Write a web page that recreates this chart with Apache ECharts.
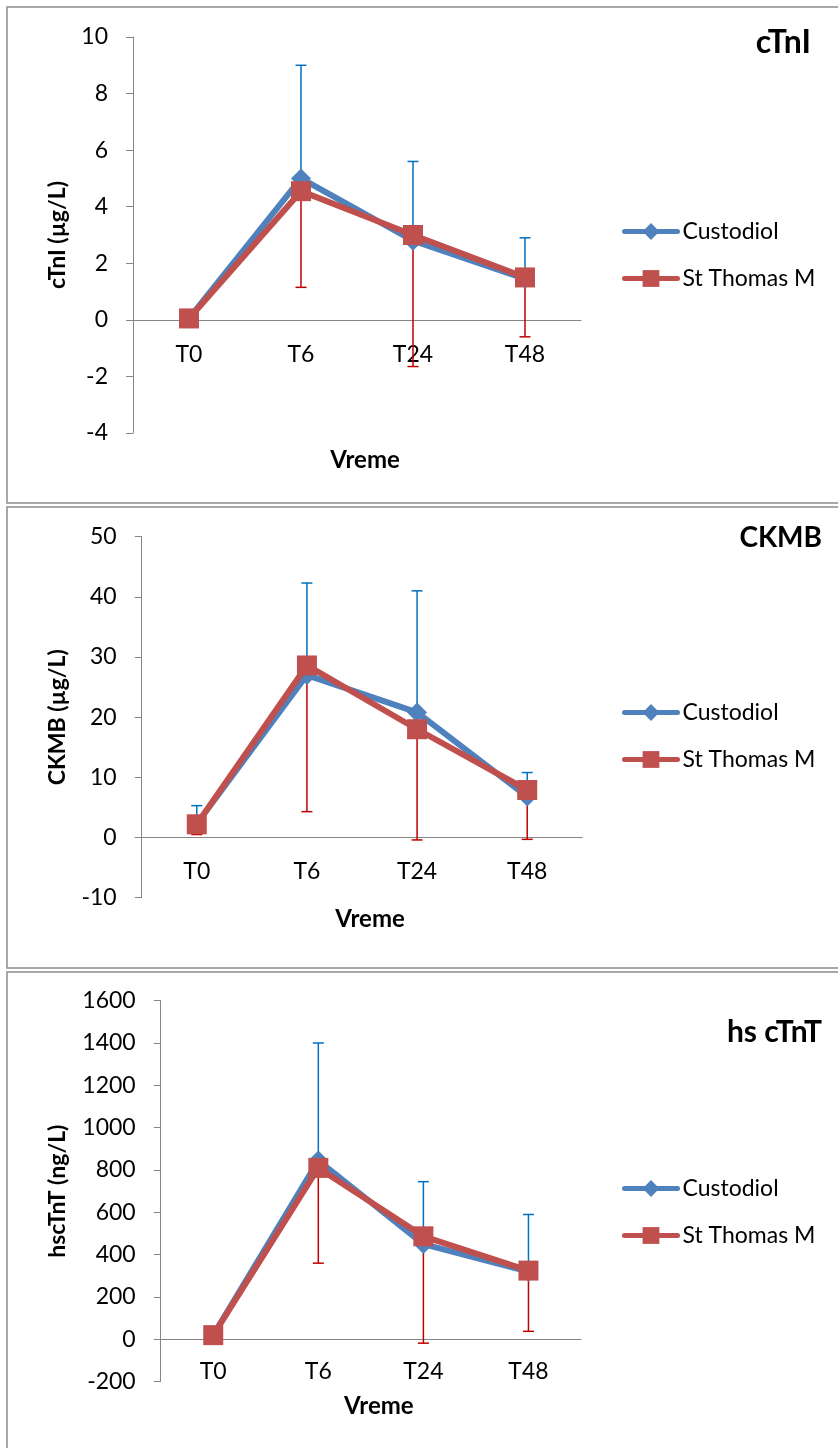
<!DOCTYPE html>
<html>
<head>
<meta charset="utf-8">
<script src="https://cdn.jsdelivr.net/npm/echarts@6/dist/echarts.min.js"></script>
<style>
  html, body { margin: 0; padding: 0; background: #fff; overflow: hidden; }
  #main { width: 838px; height: 1448px; }
</style>
</head>
<body>
<div id="main"></div>
<script>
const times = ['T0', 'T6', 'T24', 'T48']
const seriesNames = ['Custodiol', 'St Thomas M']

// cTnI (µg/L)
const ctniCust = [0.05, 5.0, 2.8, 1.45]
const ctniCustHi = [null, 9.0, 5.6, 2.9]
const ctniStm = [0.05, 4.55, 3.0, 1.5]
const ctniStmLo = [null, 1.15, -1.65, -0.6]

// CKMB (µg/L)
const ckmbCust = [2.3, 27.0, 20.8, 6.8]
const ckmbCustHi = [5.3, 42.3, 41.0, 10.8]
const ckmbStm = [2.2, 28.6, 18.0, 7.9]
const ckmbStmLo = [0.5, 4.3, -0.4, -0.3]

// hs cTnT (ng/L)
const hsCust = [20, 845, 450, 320]
const hsCustHi = [null, 1400, 745, 590]
const hsStm = [20, 810, 487, 325]
const hsStmLo = [null, 360, -18, 38]

const FONT = 'Lato, "Liberation Sans", sans-serif'
const BLUE = '#4F81BD'
const RED = '#C0504D'
const BLUE_ERR = '#0070C0'
const RED_ERR = '#C00000'
const AXIS = '#868686'

const panels = [
    { title: 'cTnI', titleSize: 32, yName: 'cTnI (µg/L)', min: -4, max: 10, step: 2,
      cust: ctniCust, custHi: ctniCustHi, stm: ctniStm, stmLo: ctniStmLo,
      grid: { left: 133, top: 37, width: 448, height: 396 },
      yGap: 75, xGap: 140, labelGap: 23, titleTop: 22, titleRight: 22, legendTop: 215 },
    { title: 'CKMB', titleSize: 28, yName: 'CKMB (µg/L)', min: -10, max: 50, step: 10,
      cust: ckmbCust, custHi: ckmbCustHi, stm: ckmbStm, stmLo: ckmbStmLo,
      grid: { left: 141.7, top: 536.7, width: 440.6, height: 361 },
      yGap: 84, xGap: 82, labelGap: 23, titleTop: 519, titleRight: 11, legendTop: 696 },
    { title: 'hs cTnT', titleSize: 30, yName: 'hscTnT (ng/L)', min: -200, max: 1600, step: 200,
      cust: hsCust, custHi: hsCustHi, stm: hsStm, stmLo: hsStmLo,
      grid: { left: 160.7, top: 1000.7, width: 420.3, height: 381 },
      yGap: 103, xGap: 67, labelGap: 21, titleTop: 1012, titleRight: 11, legendTop: 1172 }
]

// vertical error bar with a cap at the far end
const errorBar = (color) => (params, api) => {
    const x = api.value(0)
    const a = api.coord([x, api.value(1)])
    const b = api.coord([x, api.value(2)])
    const hw = 5.5
    return {
        type: 'group',
        children: [
            { type: 'line', shape: { x1: a[0], y1: a[1], x2: b[0], y2: b[1] }, style: { stroke: color, lineWidth: 1.5 } },
            { type: 'line', shape: { x1: b[0] - hw, y1: b[1], x2: b[0] + hw, y2: b[1] }, style: { stroke: color, lineWidth: 1.5 } }
        ]
    }
}

const barData = (mean, end) => {
    let out = []
    for (let i in mean) {
        if (end[i] == null) continue
        out.push([Number(i), mean[i], end[i]])
    }
    return out
}

let grid = [], xAxis = [], yAxis = [], series = [], title = [], legend = []

panels.forEach((p, k) => {
    grid.push(Object.assign({ outerBoundsMode: 'none' }, p.grid))
    // category axis crosses the value axis at zero: lift it from the grid bottom
    const lift = p.grid.height * (0 - p.min) / (p.max - p.min)
    xAxis.push({
        type: 'category', gridIndex: k, data: times, boundaryGap: true,
        position: 'bottom', offset: -lift,
        axisLine: { onZero: false, lineStyle: { color: AXIS, width: 1 } },
        axisTick: { show: false },
        axisLabel: { color: '#000', fontSize: 23, fontFamily: FONT, margin: p.labelGap },
        splitLine: { show: false },
        name: 'Vreme', nameLocation: 'middle', nameGap: p.xGap,
        nameTextStyle: { color: '#000', fontSize: 24, fontWeight: 'bold', fontFamily: FONT,
            verticalAlign: 'middle', padding: [0, 0, 0, 16] }
    })
    yAxis.push({
        type: 'value', gridIndex: k, min: p.min, max: p.max, interval: p.step,
        axisLine: { show: true, lineStyle: { color: AXIS, width: 1 } },
        axisTick: { show: true, length: 7, lineStyle: { color: AXIS } },
        axisLabel: { color: '#000', fontSize: 23, fontFamily: FONT, margin: 25, formatter: (v) => String(v) },
        splitLine: { show: false },
        name: p.yName, nameLocation: 'middle', nameGap: p.yGap, nameRotate: 90,
        nameTextStyle: { color: '#000', fontSize: 23, fontWeight: 'bold', fontFamily: FONT, verticalAlign: 'middle' }
    })
    title.push({
        text: p.title, right: p.titleRight, top: p.titleTop,
        textStyle: { color: '#000', fontSize: p.titleSize, fontWeight: 'bold', fontFamily: FONT }
    })
    legend.push({
        data: seriesNames, orient: 'vertical', left: 617, top: p.legendTop,
        itemWidth: 53, itemHeight: 21, itemGap: 24,
        lineStyle: { width: 5 },
        textStyle: { color: '#000', fontSize: 23, fontFamily: FONT }
    })

    series.push({
        type: 'custom', xAxisIndex: k, yAxisIndex: k, z: 1,
        renderItem: errorBar(BLUE_ERR), encode: { x: 0, y: [1, 2] },
        data: barData(p.cust, p.custHi)
    }, {
        type: 'custom', xAxisIndex: k, yAxisIndex: k, z: 1,
        renderItem: errorBar(RED_ERR), encode: { x: 0, y: [1, 2] },
        data: barData(p.stm, p.stmLo)
    }, {
        name: 'Custodiol', type: 'line', xAxisIndex: k, yAxisIndex: k, z: 3,
        symbol: 'diamond', symbolSize: 20, showAllSymbol: true,
        itemStyle: { color: BLUE },
        lineStyle: { color: BLUE, width: 6, cap: 'round', join: 'round' },
        data: p.cust
    }, {
        name: 'St Thomas M', type: 'line', xAxisIndex: k, yAxisIndex: k, z: 4,
        symbol: 'rect', symbolSize: 20, showAllSymbol: true,
        itemStyle: { color: RED },
        lineStyle: { color: RED, width: 6, cap: 'round', join: 'round' },
        data: p.stm
    })
})

let chart = echarts.init(document.getElementById('main'))
chart.setOption({
    animation: false,
    backgroundColor: '#fff',
    title: title,
    legend: legend,
    grid: grid,
    xAxis: xAxis,
    yAxis: yAxis,
    series: series,
    graphic: [
        { type: 'rect', shape: { x: 7, y: 7, width: 840, height: 496 }, style: { fill: 'none', stroke: '#8c8c8c', lineWidth: 1.5 } },
        { type: 'rect', shape: { x: 7, y: 507, width: 840, height: 461 }, style: { fill: 'none', stroke: '#8c8c8c', lineWidth: 1.5 } },
        { type: 'rect', shape: { x: 7, y: 972, width: 840, height: 500 }, style: { fill: 'none', stroke: '#8c8c8c', lineWidth: 1.5 } }
    ]
})
</script>
</body>
</html>
